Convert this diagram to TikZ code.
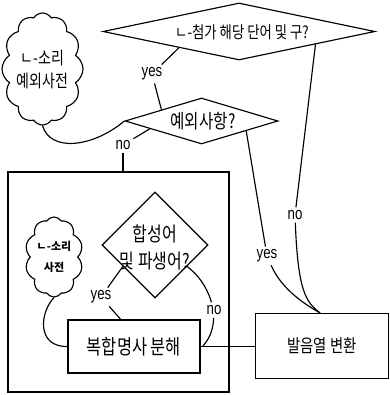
\documentclass[tikz,border=0pt]{standalone}
\usepackage{fontspec}
\setmainfont[FakeStretch=0.8]{Noto Sans CJK KR}
\newfontfamily\krwide{Noto Sans CJK KR}
\newfontfamily\labfont[FakeStretch=0.78]{Liberation Sans}
\usetikzlibrary{shapes.geometric,shapes.symbols,calc}
\begin{document}
\begin{tikzpicture}[x=1pt,y=-1pt,line width=1.15pt,
  dia/.style={diamond,draw,inner sep=0pt},
  boxnode/.style={rectangle,draw,inner sep=0pt},
  cloudnode/.style={cloud,draw,cloud ignores aspect,inner sep=0pt,align=center},
  lab/.style={font=\labfont\fontsize{17}{17}\selectfont,inner sep=2.5pt},
  txt/.style={inner sep=0pt,align=center}]
\path[use as bounding box] (0,0) rectangle (389,395);

% top diamond
\node[dia,minimum width=272pt,minimum height=57pt] (d1) at (239,31.5) {};
\node[txt,font=\fontsize{16.7}{19}\selectfont] (t1) at (242,32) {ㄴ-첨가 해당 단어 및 구?};
% second diamond
\node[dia,minimum width=153pt,minimum height=46pt] (d2) at (201.5,121) {};
\node[txt,font=\fontsize{19.5}{21}\selectfont] (t2) at (203,121) {예외사항?};
% cloud 1
\node[cloudnode,cloud puffs=12,cloud puff arc=115,minimum width=81pt,minimum height=112pt,
      font=\fontsize{17.5}{23}\selectfont] (c1) at (42.5,69) {ㄴ-소리\\예외사전};

% frame
\node[boxnode,minimum width=221pt,minimum height=220pt] (frame) at (118.5,282) {};
% third diamond
\node[dia,minimum width=106pt,minimum height=106pt] (d3) at (155,245) {};
\node[txt,font=\fontsize{20}{27}\selectfont] (t3) at (155,247) {합성어\\및 파생어?};
% cloud 2
\node[cloudnode,cloud puffs=10,cloud puff arc=115,minimum width=58pt,minimum height=80pt,
      font=\krwide\bfseries\fontsize{11}{21}\selectfont] (c2) at (54,257) {ㄴ-소리\\사전};
% boxes
\node[boxnode,minimum width=132pt,minimum height=53pt,font=\fontsize{20.5}{22}\selectfont] (b3) at (134,346.5) {복합명사 분해};
\node[boxnode,minimum width=133pt,minimum height=65pt,font=\fontsize{18}{20}\selectfont] (b2) at (322,346) {발음열 변환};

% labels
\node[lab] (yes1) at (152,74) {yes};
\node[lab] (no1) at (123,145) {no};
\node[lab] (no2) at (295,215) {no};
\node[lab] (yes2) at (267,256) {yes};
\node[lab] (yes3) at (101,297) {yes};
\node[lab] (no3) at (214,310) {no};

% coordinates on borders
\coordinate (p1) at ($(d1.west)!0.56!(d1.south)$);
\coordinate (p2) at ($(d2.west)!0.48!(d2.north)$);
\coordinate (p3) at ($(d2.west)!0.33!(d2.south)$);
\coordinate (p4) at ($(d1.east)!0.44!(d1.south)$);
\coordinate (p5) at ($(d2.east)!0.42!(d2.south)$);
\coordinate (p6) at ($(d3.west)!0.4!(d3.south)$);
\coordinate (p7) at ($(d3.east)!0.4!(d3.south)$);
\coordinate (p8) at ($(b3.north west)!0.4!(b3.north east)$);
\coordinate (join) at (203,346);
\coordinate (b2top) at ([xshift=-2pt]b2.north);

% connectors
\draw (p1) -- (yes1);
\draw (yes1) -- (p2);
\draw (p3) -- (no1);
\draw (no1) -- (no1 |- frame.north);
\draw (c1.south) .. controls (50,152) and (92,148) .. (d2.west);
\draw (p4) -- (no2);
\draw (no2) .. controls (298,292) and (306,302) .. (b2top);
\draw (p5) -- (yes2);
\draw (yes2) .. controls (282,290) and (306,305) .. (b2top);
\draw (b3.east) -- (b3.east -| b2.west);
\draw (c2.south) .. controls (40,312) and (36,347) .. (b3.west);
\draw (p6) -- (yes3);
\draw (yes3) -- (p8);
\draw (p7) .. controls (198,275) and (206,285) .. (no3);
\draw (no3) .. controls (213,334) and (207,341) .. (join);
\end{tikzpicture}
\end{document}
